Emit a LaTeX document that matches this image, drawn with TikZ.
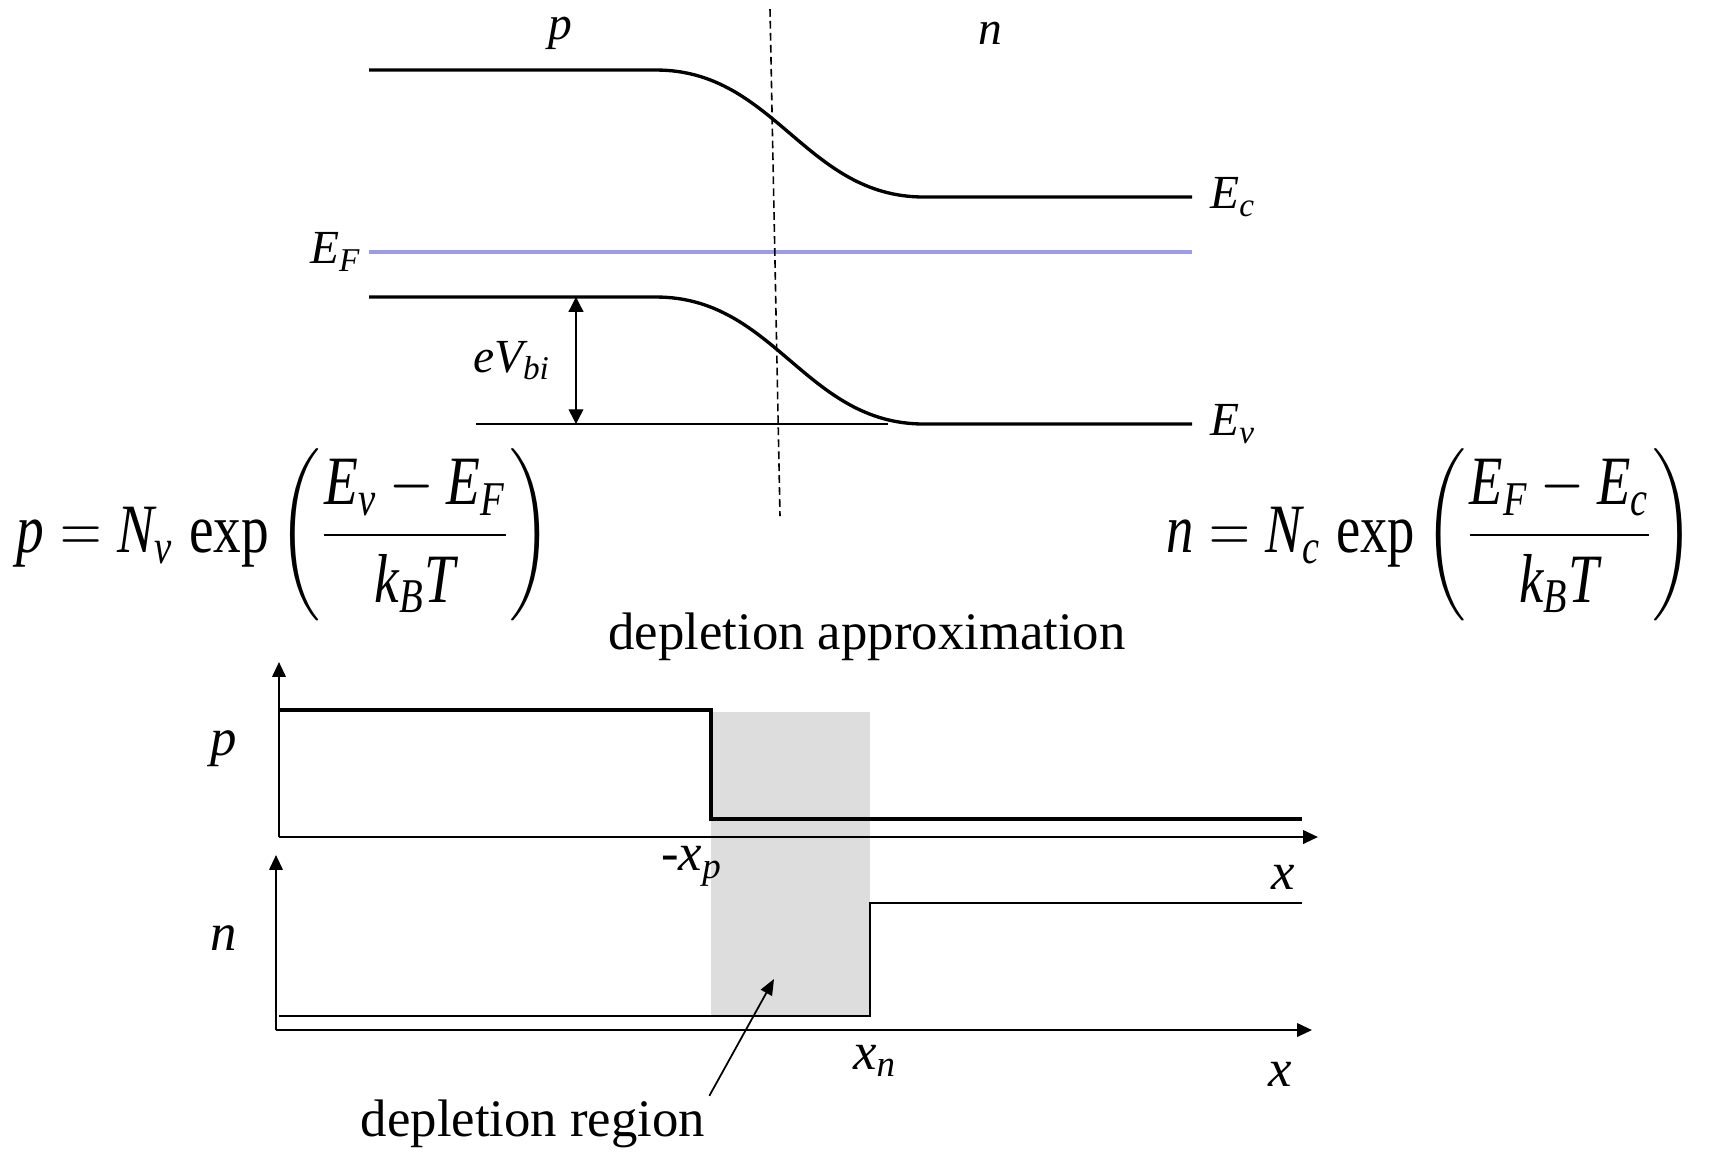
\documentclass[tikz,border=0pt]{standalone}
\usepackage{amsmath}
\usepackage{graphicx}
\usepackage{fontspec}
\setmainfont{Liberation Serif}
\newfontfamily\tnritalic{Liberation Serif Italic}
\usepackage{tikz}
\usetikzlibrary{arrows.meta, positioning, calc}
\definecolor{fermiblue}{RGB}{155,155,235}
\definecolor{depgray}{RGB}{221,221,221}
\newcommand{\vi}[1]{\text{\tnritalic #1}}

\begin{document}
\begin{tikzpicture}[
    x=0.01cm, y=-0.01cm,
    band/.style={line width=0.95pt},
    lbl/.style={font=\fontsize{13.5}{16}\selectfont, inner sep=1pt},
    txt/.style={font=\fontsize{15}{18}\selectfont, inner sep=1pt},
    eqn/.style={inner sep=0pt, font=\fontsize{20}{24}\selectfont},
    axis/.style={line width=0.6pt, -{Triangle[length=4.2pt, width=3.8pt]}},
    prof/.style={line width=0.9pt},
    arr/.style={line width=0.4pt, {Triangle[length=4.2pt, width=4.2pt]}-{Triangle[length=4.2pt, width=4.2pt]}},
    >=Triangle
]
\useasboundingbox (0,0) rectangle (1715,1153);

% Band edges
\coordinate (cl) at (369,70);
\coordinate (cb) at (656,70);
\coordinate (ce) at (924,197);
\coordinate (cr) at (1192,197);
\coordinate (vl) at (369,297);
\coordinate (vb) at (656,297);
\coordinate (ve) at (924,424);
\coordinate (vr) at (1192,424);
\coordinate (fl) at (369,252);
\coordinate (fr) at (1192,252);

\draw[band] (cl) -- (cb) .. controls (775,70) and (805,197) .. (ce) -- (cr);
\draw[band] (vl) -- (vb) .. controls (775,297) and (805,424) .. (ve) -- (vr);
\draw[fermiblue, line width=1pt] (fl) -- (fr);

% Built-in potential
\coordinate (rl) at (476,424);
\coordinate (rr) at (888,424);
\draw[line width=0.6pt] (rl) -- (rr);
\coordinate (vt) at (576,297);
\coordinate (vd) at (576,424);
\coordinate (vm) at ($(vt)!0.5!(vd)$);
\draw[arr] (vt) -- (vd);
\node[lbl, left=6pt of vm] (vbi) {$\vi{eV}_{\vi{bi}}$};

% Junction
\coordinate (jt) at (770,9);
\coordinate (jb) at (780,516);
\draw[line width=0.45pt, dash pattern=on 2.2pt off 1.2pt] (jt) -- (jb);

% Labels
\node[lbl] (ptop) at (560,33) {\tnritalic p};
\node[lbl] (ntop) at (990,33) {\tnritalic n};
\node[lbl, right=4pt of cr] (ec) {$\vi{E}_{\vi{c}}$};
\node[lbl, right=4pt of vr] (ev) {$\vi{E}_{\vi{v}}$};
\node[lbl, left=1pt of fl] (ef) {$\vi{E}_{\vi{F}}$};

% Equations
\node[eqn] (peq) at (284,535) {\resizebox*{152pt}{49pt}{$\vi{p} = \vi{N}_{\vi{v}}\;\text{exp}\left(\dfrac{\vi{E}_{\vi{v}} - \vi{E}_{\vi{F}}}{\vi{k}_{\vi{B}}\vi{T}}\right)$}};
\node[eqn] (neq) at (1430,535) {\resizebox*{150pt}{49pt}{$\vi{n} = \vi{N}_{\vi{c}}\;\text{exp}\left(\dfrac{\vi{E}_{\vi{F}} - \vi{E}_{\vi{c}}}{\vi{k}_{\vi{B}}\vi{T}}\right)$}};

\node[txt] (title) at (867,637) {depletion approximation};

% Depletion region
\fill[depgray] (711,712) rectangle (870,1015);

% p profile
\coordinate (po) at (279,837);
\draw[axis] (po) -- (279,662);
\draw[axis] (po) -- (1318,837);
\draw[prof] (279,710) -- (711,710) -- (711,819) -- (1302,819);

% n profile
\coordinate (no) at (276,1030);
\draw[axis] (no) -- (276,855);
\draw[axis] (no) -- (1312,1030);
\draw[line width=0.65pt] (279,1016) -- (870,1016) -- (870,903) -- (1302,903);

\node[txt] (plab) at (224,749) {\tnritalic p};
\node[txt] (nlab) at (224,938) {\tnritalic n};
\node[txt] (xp) at (692,866) {-$\vi{x}_{\vi{p}}$};
\node[txt] (xa) at (1283,877) {\tnritalic x};
\node[txt] (xn) at (875,1061) {$\vi{x}_{\vi{n}}$};
\node[txt] (xb) at (1280,1074) {\tnritalic x};

\node[txt] (dreg) at (533,1124) {depletion region};
\coordinate (dtip) at (774,979);
\draw[line width=0.5pt, -{Triangle[length=4.5pt, width=3.6pt]}] (dreg.north east) -- (dtip);

\end{tikzpicture}
\end{document}
